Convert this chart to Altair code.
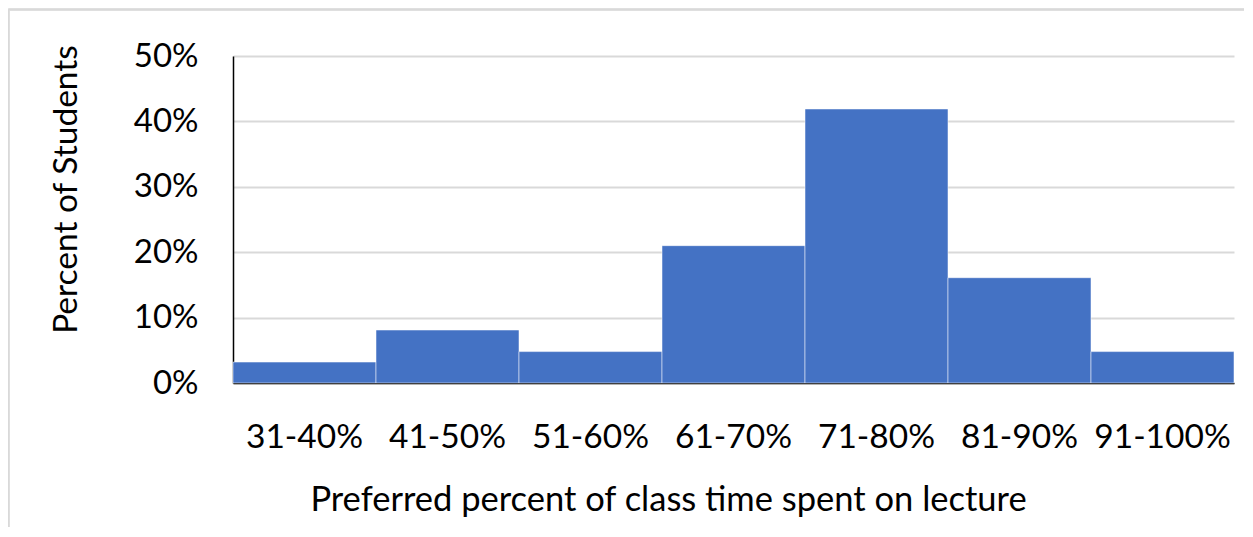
import altair as alt
import pandas as pd

categories = ["31-40%", "41-50%", "51-60%", "61-70%", "71-80%", "81-90%", "91-100%"]
percents = [0.032, 0.081, 0.048, 0.21, 0.419, 0.161, 0.048]
y_ticks = [0, 0.1, 0.2, 0.3, 0.4, 0.5]

df = pd.DataFrame({"bin": categories, "pct": percents})

FONT = "Lato"

bars = alt.Chart(df).mark_bar(
    color="#4472C4", stroke="#ffffff", strokeOpacity=0.5, strokeWidth=1
).encode(
    x=alt.X(
        "bin:N",
        sort=categories,
        scale=alt.Scale(paddingInner=0, paddingOuter=0),
        axis=alt.Axis(
            title="Preferred percent of class time spent on lecture",
            labelAngle=0,
            labelFont=FONT,
            labelFontSize=33.5,
            labelColor="#000000",
            labelBaseline="alphabetic",
            labelPadding=64,
            ticks=False,
            tickSize=0,
            domainColor="#000000",
            domainWidth=1.5,
            grid=False,
            titleFont=FONT,
            titleFontSize=34.5,
            titleFontWeight="normal",
            titleColor="#000000",
            titleAnchor="start",
            titleAlign="center",
            titleBaseline="alphabetic",
            titleX=435,
            titleY=127,
        ),
    ),
    y=alt.Y(
        "pct:Q",
        scale=alt.Scale(domain=[0, 0.5], nice=False, zero=True),
        axis=alt.Axis(
            title="Percent of Students",
            values=y_ticks,
            format=".0%",
            labelFont=FONT,
            labelFontSize=33,
            labelColor="#000000",
            labelAlign="right",
            labelBaseline="middle",
            labelPadding=35,
            ticks=False,
            tickSize=0,
            domainColor="#000000",
            domainWidth=1.5,
            grid=True,
            gridColor="#d9d9d9",
            gridWidth=1.8,
            titleFont=FONT,
            titleFontSize=33.5,
            titleFontWeight="normal",
            titleColor="#000000",
            titleAngle=-90,
            titleAlign="center",
            titleBaseline="alphabetic",
            titleX=-157,
            titleY=133,
        ),
    ),
)

frame_top = alt.Chart(df).mark_rule(color="#d9d9d9", strokeWidth=1.5).encode(
    x=alt.value(-224.5), x2=alt.value(1020), y=alt.value(-46.5)
)
frame_left = alt.Chart(df).mark_rule(color="#d9d9d9", strokeWidth=1.5).encode(
    x=alt.value(-224.5), y=alt.value(-46.5), y2=alt.value(480)
)

chart = (
    alt.layer(frame_top, frame_left, bars)
    .properties(
        width=1001,
        height=327,
        autosize=alt.AutoSizeParams(type="none"),
        padding={"left": 225, "top": 48, "right": 10, "bottom": 144},
        background="#ffffff",
    )
    .configure_view(stroke=None)
)

chart.save("out.html", embed_options={"renderer": "svg", "actions": False})
